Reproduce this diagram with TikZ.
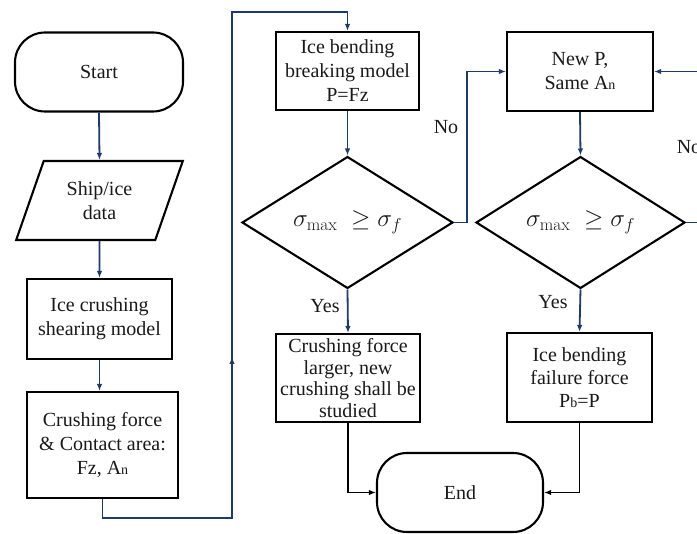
\documentclass[tikz,border=0pt]{standalone}
\usepackage{fontspec}
\newfontfamily\flowfont{Liberation Serif}
\usetikzlibrary{shapes.geometric,arrows.meta}
\definecolor{flowblue}{RGB}{28,58,112}
\newcommand\lowidx[1]{{\fontsize{14}{14}\selectfont #1}}
\begin{document}
\begin{tikzpicture}[x=1pt,y=-1pt,
  txt/.style={font=\flowfont\fontsize{20}{24}\selectfont, align=center, text=black!90},
  box/.style={txt, draw=black, line width=2.1pt, inner sep=0pt},
  terminal/.style={box, rounded corners=30pt},
  decision/.style={box, diamond, minimum width=211pt, minimum height=109pt, font=\flowfont\fontsize{25}{28}\selectfont},
  io/.style={box, trapezium, trapezium left angle=67, trapezium right angle=113, trapezium stretches=true},
  flow/.style={draw=flowblue, line width=1.8pt, -{Latex[length=7pt,width=5.5pt]}},
  endflow/.style={draw=black, line width=1.8pt, -{Latex[length=7pt,width=5.5pt]}},
  lbl/.style={txt}
]
\useasboundingbox (0,0) rectangle (697,534);

% left column
\node[terminal, minimum width=168pt, minimum height=79pt] (start) at (99,72) {Start};
\node[io, minimum width=167pt, minimum height=79pt] (data) at (99.5,200.5) {Ship/ice\\data};
\node[box, minimum width=145pt, minimum height=80pt] (shear) at (99.5,319) {Ice crushing\\shearing model};
\node[box, minimum width=151pt, minimum height=106pt] (force) at (102.5,445) {Crushing force\\\& Contact area:\\Fz, A\lowidx{n}};

% middle column
\node[box, minimum width=143pt, minimum height=78pt] (bend) at (347.5,71) {Ice bending\\breaking model\\P=Fz};
\node[decision] (d1) at (347.5,222.5) {$\sigma_{\mathrm{max}}\;\geq\sigma_f$};
\node[box, minimum width=144pt, minimum height=88pt, font=\flowfont\fontsize{20}{21.5}\selectfont] (larger) at (348,378) {Crushing force\\larger, new\\crushing shall be\\studied};

% right column
\node[box, minimum width=146pt, minimum height=79pt] (newp) at (580,71.5) {New P,\\Same A\lowidx{n}};
\node[decision, minimum width=209pt] (d2) at (580.5,222.5) {$\sigma_{\mathrm{max}}\;\geq\sigma_f$};
\node[box, minimum width=145pt, minimum height=89pt, font=\flowfont\fontsize{20}{23}\selectfont] (fail) at (579.5,377.5) {Ice bending\\failure force\\P\lowidx{b}=P};

\node[terminal, minimum width=166pt, minimum height=79pt] (end) at (460,492.5) {End};

% branch labels
\node[lbl] (no1) at (446,127) {No};
\node[lbl] (no2) at (689,147) {No};
\node[lbl] (yes1) at (325,306) {Yes};
\node[lbl] (yes2) at (553,302) {Yes};

% bend points of the routed connectors
\coordinate (lowbend) at (232,518);
\coordinate (topbend) at (232,12);
\coordinate (midtip) at (232,357);
\coordinate (nojog) at (467,0);
\coordinate (rjog) at (712,0);

% connectors
\draw[flow] (start.south) -- (data.north);
\draw[flow] (data.south) -- (shear.north);
\draw[flow] (shear.south) -- (shear.south |- force.north);
\draw[flow] (force.south) |- (lowbend) -- (topbend) -| (bend.north);
\draw[flow] (lowbend) -- (midtip);
\draw[flow] (bend.south) -- (d1.north);
\draw[flow] (d1.east) -| (nojog |- newp.west) -- (newp.west);
\draw[flow] (newp.south) -- (d2.north);
\draw[flow] (d2.east) -| (rjog |- newp.east) -- (newp.east);
\draw[flow] (d1.south) -- (larger.north);
\draw[flow] (d2.south) -- (fail.north);
\draw[endflow] (larger.south) |- (end.west);
\draw[endflow] (fail.south) |- (end.east);
\end{tikzpicture}
\end{document}
